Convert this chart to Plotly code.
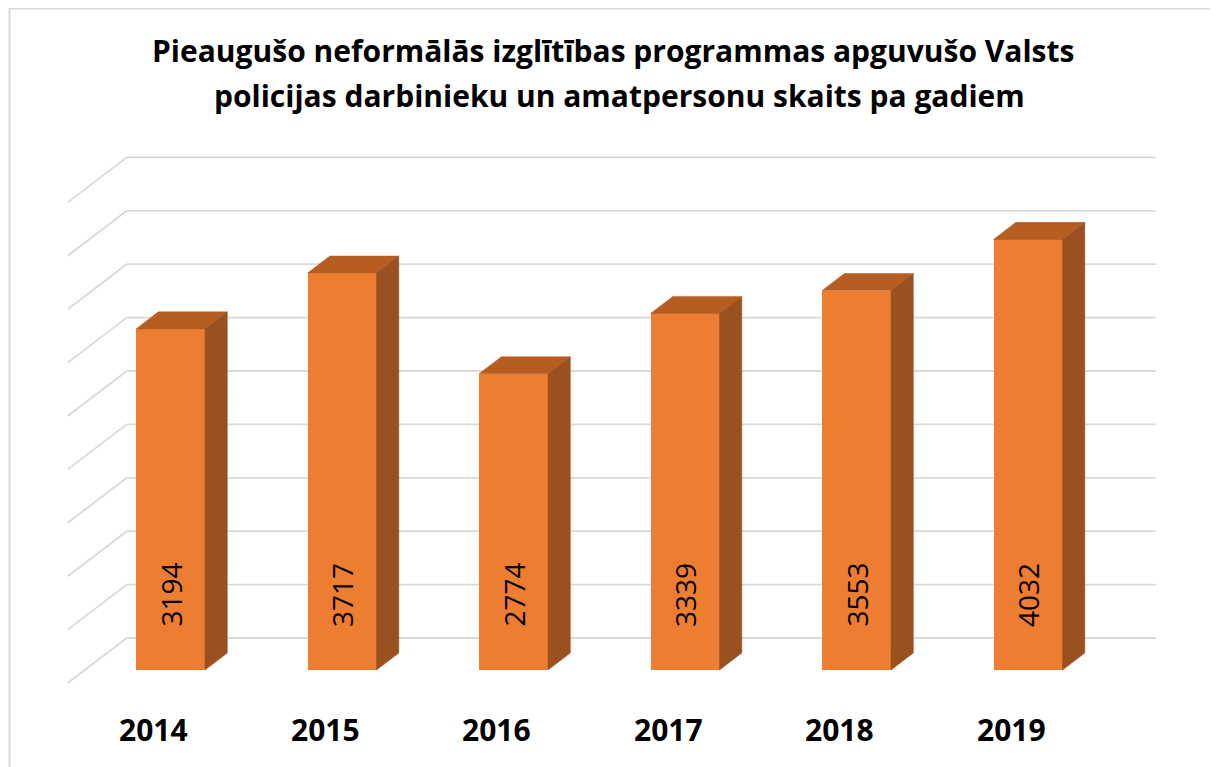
import plotly.graph_objects as go

# ---- data ----
years = ["2014", "2015", "2016", "2017", "2018", "2019"]
values = [3194, 3717, 2774, 3339, 3553, 4032]
grid_values = [0, 500, 1000, 1500, 2000, 2500, 3000, 3500, 4000, 4500]
title_lines = ["Pieaugušo neformālās izglītības programmas apguvušo Valsts",
               "policijas darbinieku un amatpersonu skaits pa gadiem"]

# ---- geometry / style (screen pixel targets) ----
OFF = 8                 # default page body margin
W, H = 1218 - OFF, 767 - OFF
PX_CAT = 171.5          # px per category
PX_VAL = 0.1068         # px per value unit
X0_PX, Y0_PX = 212.5 - OFF, 638.0 - OFF   # wall position of category 0, value 0
DX = 59 / PX_CAT        # full-depth oblique shift (category units)
DY = 45 / PX_VAL        # full-depth oblique shift (value units)
D_FRONT, D_BACK = 0.711, 0.333
HALF_W = 0.201

C_FRONT = "#ED7D31"
C_TOP = "#B65D22"
C_SIDE = "#9B501F"
C_GRID = "#D9D9D9"
FONT = "Open Sans"

n = len(years)
idx = list(range(n))

fig = go.Figure()

# grid lines on back wall + left wall
shapes = []
for g in grid_values:
    shapes.append(dict(type="line", xref="x", yref="y", layer="below",
                       x0=-0.5, x1=n - 0.5, y0=g, y1=g,
                       line=dict(color=C_GRID, width=1.8)))
    shapes.append(dict(type="line", xref="x", yref="y", layer="below",
                       x0=-0.5, x1=-0.5 - DX, y0=g, y1=g - DY,
                       line=dict(color=C_GRID, width=1.8)))
# chart border
shapes.append(dict(type="rect", xref="paper", yref="paper",
                   x0=(9.5 - OFF) / W, x1=(1216 - OFF) / W, y0=-0.05, y1=1 - (8.5 - OFF) / H,
                   line=dict(color="#D9D9D9", width=2), fillcolor="rgba(0,0,0,0)"))

# front faces as bars
xf = [i - D_FRONT * DX for i in idx]
xb = [i - D_BACK * DX for i in idx]
fig.add_trace(go.Bar(x=xf, y=values, base=[-D_FRONT * DY] * n, width=2 * HALF_W,
                     marker=dict(color=C_FRONT, line=dict(width=0)),
                     hoverinfo="skip", showlegend=False))

# top and side faces
for i, v in enumerate(values):
    yf = v - D_FRONT * DY
    yb = v - D_BACK * DY
    fig.add_trace(go.Scatter(
        x=[xf[i] - HALF_W, xf[i] + HALF_W, xb[i] + HALF_W, xb[i] - HALF_W, xf[i] - HALF_W],
        y=[yf, yf, yb, yb, yf], mode="lines", fill="toself", fillcolor=C_TOP,
        line=dict(width=0.5, color=C_TOP), hoverinfo="skip", showlegend=False))
    fig.add_trace(go.Scatter(
        x=[xf[i] + HALF_W, xb[i] + HALF_W, xb[i] + HALF_W, xf[i] + HALF_W, xf[i] + HALF_W],
        y=[yf, yb, -D_BACK * DY, -D_FRONT * DY, yf], mode="lines", fill="toself",
        fillcolor=C_SIDE, line=dict(width=0.5, color=C_SIDE),
        hoverinfo="skip", showlegend=False))

annotations = []
# value labels (inside base of bar)
label_y = (Y0_PX - (595 - OFF)) / PX_VAL
for i, v in enumerate(values):
    annotations.append(dict(x=xf[i], y=label_y, xref="x", yref="y", text=str(v),
                            textangle=-90, showarrow=False, xanchor="center", yanchor="middle",
                            font=dict(family=FONT, size=28, color="#000000")))
# category labels at floor front
cat_y = (Y0_PX - (729 - OFF)) / PX_VAL
for i, yr in enumerate(years):
    annotations.append(dict(x=i - DX, y=cat_y, xref="x", yref="y", text="<b>%s</b>" % yr,
                            showarrow=False, xanchor="center", yanchor="middle",
                            font=dict(family=FONT, size=30, color="#000000")))
# title (two lines)
for line, (cx, cy) in zip(title_lines, [(613, 50.5), (619, 95.5)]):
    annotations.append(dict(x=(cx - OFF) / W, y=1 - (cy - OFF) / H, xref="paper", yref="paper",
                            text="<b>" + line + "</b>",
                            showarrow=False, xanchor="center", yanchor="middle",
                            font=dict(family=FONT, size=30, color="#000000")))

fig.update_layout(
    width=W, height=H, margin=dict(l=0, r=0, t=0, b=0),
    paper_bgcolor="white", plot_bgcolor="white",
    xaxis=dict(range=[-X0_PX / PX_CAT, (W - X0_PX) / PX_CAT], visible=False, fixedrange=True),
    yaxis=dict(range=[(Y0_PX - H) / PX_VAL, Y0_PX / PX_VAL], visible=False, fixedrange=True),
    shapes=shapes, annotations=annotations, bargap=0, showlegend=False,
)
fig.write_html("out.html")
